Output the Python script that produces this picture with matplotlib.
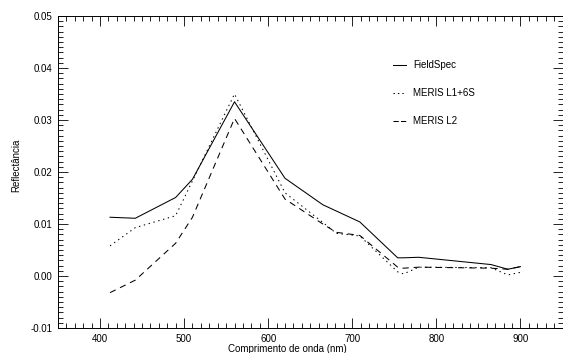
import matplotlib
matplotlib.use("Agg")
import matplotlib.pyplot as plt
from matplotlib.ticker import MultipleLocator, FormatStrFormatter
from matplotlib.lines import Line2D

# Data
wavelength = [412, 442, 490, 510, 560, 620, 665, 681, 709, 754, 761, 779, 865, 885, 900]
fieldspec = [0.0113, 0.0111, 0.0151, 0.0186, 0.0335, 0.0188, 0.0137, 0.0125, 0.0104,
             0.0035, 0.0035, 0.0036, 0.0022, 0.0013, 0.0018]
meris_l1_6s = [0.0058, 0.0093, 0.0116, 0.0183, 0.0350, 0.0160, 0.0103, 0.0082, 0.0077,
               0.0008, 0.0004, 0.0017, 0.0016, 0.0002, 0.0007]
meris_l2 = [-0.0032, -0.0008, 0.0063, 0.0113, 0.0303, 0.0148, 0.0100, 0.0084, 0.0078,
            0.0017, 0.0015, 0.0017, 0.0015, 0.0013, 0.0018]
labels = ["FieldSpec", "MERIS L1+6S", "MERIS L2"]

plt.rcParams['font.family'] = ['Liberation Sans', 'DejaVu Sans']
plt.rcParams['axes.unicode_minus'] = False
plt.rcParams['lines.scale_dashes'] = False

fig = plt.figure(figsize=(5.63, 3.53), dpi=100)
ax = fig.add_axes([57.9 / 563, 25 / 353, 504.6 / 563, 312 / 353])

lw = 0.75
ax.plot(wavelength, fieldspec, color='black', lw=lw, linestyle='-')
ax.plot(wavelength, meris_l1_6s, color='black', lw=lw, linestyle=(0, (1, 2.6)))
ax.plot(wavelength, meris_l2, color='black', lw=lw, linestyle=(0, (4.5, 3.5)))

ax.set_xlim(350, 950)
ax.set_ylim(-0.01, 0.05)
ax.xaxis.set_major_locator(MultipleLocator(100))
ax.xaxis.set_minor_locator(MultipleLocator(10))
ax.yaxis.set_major_locator(MultipleLocator(0.01))
ax.yaxis.set_minor_locator(MultipleLocator(0.001))
ax.yaxis.set_major_formatter(FormatStrFormatter('%.2f'))

ax.tick_params(which='both', direction='in', top=True, right=True,
               labelsize=7, width=0.6, pad=4)
ax.tick_params(which='major', length=7)
ax.tick_params(which='minor', length=3.5)
for s in ax.spines.values():
    s.set_linewidth(0.7)

ax.set_xlabel("Comprimento de onda (nm)", fontsize=7, labelpad=1)
ax.xaxis.set_label_coords(0.454, -0.052)
ax.set_ylabel("Reflectância", fontsize=7)
ax.yaxis.set_label_coords(-0.072, 0.52)

handles = [Line2D([], [], color='black', lw=lw, linestyle='-'),
           Line2D([], [], color='black', lw=lw, linestyle=(0, (1, 2.2))),
           Line2D([], [], color='black', lw=lw, linestyle=(0, (3.8, 1.6)))]
ax.legend(handles, labels, loc='upper left', bbox_to_anchor=(0.664, 0.858),
          frameon=False, fontsize=7, handlelength=1.3, handletextpad=0.8,
          labelspacing=1.85, borderpad=0, borderaxespad=0)

fig.savefig("out.png", dpi=100)
